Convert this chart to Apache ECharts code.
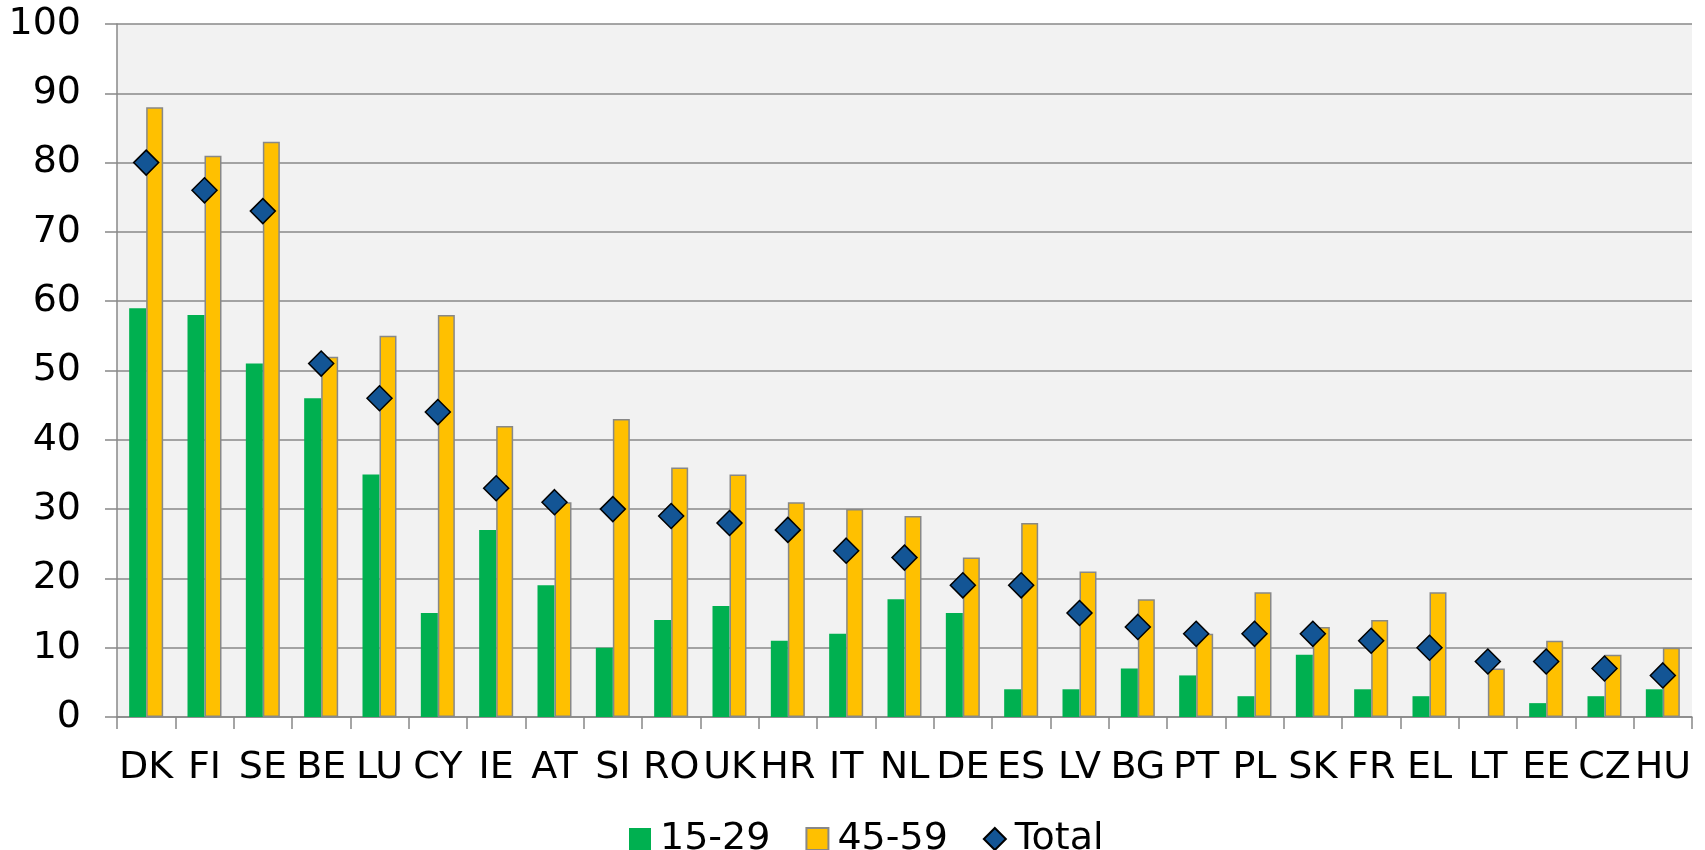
<!DOCTYPE html>
<html>
<head>
<meta charset="utf-8">
<script src="https://cdn.jsdelivr.net/npm/echarts@6/dist/echarts.min.js"></script>
<style>
  html, body { margin: 0; padding: 0; background: #fff; }
  #chart { width: 1705px; height: 850px; }
</style>
</head>
<body>
<div id="chart"></div>
<script>
var countries = ["DK", "FI", "SE", "BE", "LU", "CY", "IE", "AT", "SI", "RO", "UK", "HR", "IT", "NL",
  "DE", "ES", "LV", "BG", "PT", "PL", "SK", "FR", "EL", "LT", "EE", "CZ", "HU"];
var young = [59, 58, 51, 46, 35, 15, 27, 19, 10, 14, 16, 11, 12, 17,
  15, 4, 4, 7, 6, 3, 9, 4, 3, null, 2, 3, 4];
var older = [88, 81, 83, 52, 55, 58, 42, 31, 43, 36, 35, 31, 30, 29,
  23, 28, 21, 17, 12, 18, 13, 14, 18, 7, 11, 9, 10];
var total = [80, 76, 73, 51, 46, 44, 33, 31, 30, 29, 28, 27, 24, 23,
  19, 19, 15, 13, 12, 12, 12, 11, 10, 8, 8, 7, 6];

var chartDom = document.getElementById("chart");
var myChart = echarts.init(chartDom);
var font = "DejaVu Sans";
var option;

option = {
  animation: false,
  textStyle: { fontFamily: font },
  grid: {
    left: 117,
    right: 13,
    top: 24,
    bottom: 133,
    show: true,
    backgroundColor: "#F2F2F2",
    borderWidth: 0,
  },
  legend: {
    left: 624,
    top: 815,
    itemWidth: 22,
    itemHeight: 22,
    itemGap: 35,
    textStyle: { fontSize: 38, color: "#000", fontFamily: font, padding: [0, 0, 0, 4] },
    data: [
      { name: "15-29", icon: "rect" },
      { name: "45-59", icon: "rect" },
      { name: "Total", icon: "diamond" },
    ],
  },
  xAxis: {
    type: "category",
    data: countries,
    axisLine: { lineStyle: { color: "#888", width: 1.5 } },
    axisTick: { show: true, length: 12, lineStyle: { color: "#888", width: 1.5 } },
    axisLabel: { color: "#000", fontSize: 38, margin: 32, interval: 0, fontFamily: font },
  },
  yAxis: {
    type: "value",
    min: 0,
    max: 100,
    interval: 10,
    axisLine: { show: true, lineStyle: { color: "#888", width: 1.5 } },
    axisTick: { show: true, length: 12, lineStyle: { color: "#888", width: 1.5 } },
    axisLabel: { color: "#000", fontSize: 38, margin: 36, fontFamily: font },
    splitLine: { lineStyle: { color: "#888", width: 1.5 } },
  },
  series: [
    {
      name: "15-29",
      type: "bar",
      barWidth: 17,
      barGap: "0%",
      itemStyle: { color: "#00B050" },
      data: young,
    },
    {
      name: "45-59",
      type: "bar",
      barWidth: 17,
      barGap: "0%",
      itemStyle: { color: "#FFC000", borderColor: "#888", borderWidth: 1.5 },
      data: older,
    },
    {
      name: "Total",
      type: "line",
      symbol: "diamond",
      symbolSize: 25,
      z: 5,
      lineStyle: { opacity: 0 },
      itemStyle: { color: "#135595", borderColor: "#000", borderWidth: 1.5 },
      data: total,
    },
  ],
};

option && myChart.setOption(option);
</script>
</body>
</html>
